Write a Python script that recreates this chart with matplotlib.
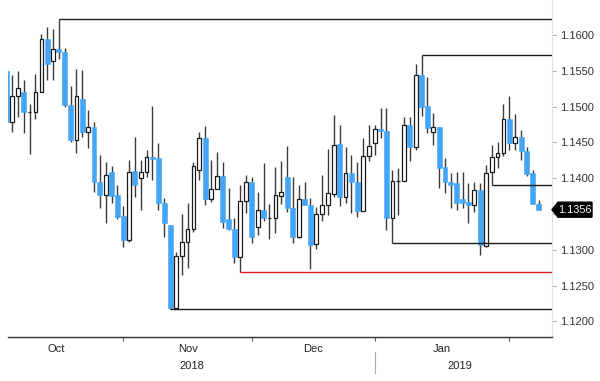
import matplotlib
matplotlib.use("Agg")
import matplotlib.pyplot as plt
import numpy as np
import pandas as pd
from matplotlib.patches import Polygon

plt.rcParams["font.family"] = ["Liberation Sans", "DejaVu Sans"]

# EUR/USD daily candles, 3 Oct 2018 - 7 Feb 2019 (index 0 = 1 Oct 2018)
dates = pd.bdate_range("2018-10-03", "2019-02-07")
opens = [1.1550, 1.1479, 1.1515, 1.1520, 1.1492, 1.1492, 1.1521, 1.1594, 1.1564, 1.1580,
         1.1576, 1.1502, 1.1454, 1.1510, 1.1464, 1.1472, 1.1394, 1.1376, 1.1409, 1.1376,
         1.1347, 1.1313, 1.1410, 1.1400, 1.1408, 1.1429, 1.1428, 1.1366, 1.1334, 1.1219,
         1.1292, 1.1311, 1.1329, 1.1412, 1.1456, 1.1371, 1.1385, 1.1403, 1.1343, 1.1329,
         1.1290, 1.1368, 1.1394, 1.1332, 1.1356, 1.1345, 1.1345, 1.1375, 1.1402, 1.1359,
         1.1318, 1.1371, 1.1363, 1.1308, 1.1350, 1.1362, 1.1378, 1.1448, 1.1374, 1.1407,
         1.1394, 1.1354, 1.1431, 1.1449, 1.1469, 1.1466, 1.1344, 1.1396, 1.1396, 1.1475,
         1.1443, 1.1544, 1.1501, 1.1465, 1.1471, 1.1415, 1.1394, 1.1393, 1.1371, 1.1367,
         1.1362, 1.1383, 1.1306, 1.1408, 1.1430, 1.1435, 1.1482, 1.1449, 1.1457, 1.1438,
         1.1407, 1.1364]
highs = [1.1550, 1.1544, 1.1550, 1.1537, 1.1504, 1.1546, 1.1601, 1.1611, 1.1608, 1.1622,
         1.1582, 1.1529, 1.1552, 1.1551, 1.1495, 1.1478, 1.1432, 1.1423, 1.1417, 1.1391,
         1.1361, 1.1426, 1.1458, 1.1426, 1.1439, 1.1501, 1.1449, 1.1372, 1.1334, 1.1297,
         1.1350, 1.1365, 1.1423, 1.1465, 1.1473, 1.1426, 1.1436, 1.1423, 1.1386, 1.1345,
         1.1391, 1.1404, 1.1402, 1.1381, 1.1421, 1.1364, 1.1415, 1.1424, 1.1445, 1.1402,
         1.1390, 1.1395, 1.1372, 1.1360, 1.1404, 1.1441, 1.1488, 1.1475, 1.1444, 1.1433,
         1.1422, 1.1456, 1.1475, 1.1475, 1.1498, 1.1498, 1.1412, 1.1414, 1.1485, 1.1486,
         1.1560, 1.1572, 1.1542, 1.1491, 1.1472, 1.1428, 1.1407, 1.1409, 1.1409, 1.1393,
         1.1395, 1.1393, 1.1418, 1.1446, 1.1451, 1.1504, 1.1515, 1.1490, 1.1468, 1.1444,
         1.1412, 1.1370]
lows = [1.1478, 1.1465, 1.1486, 1.1463, 1.1434, 1.1482, 1.1520, 1.1537, 1.1537, 1.1567,
        1.1499, 1.1450, 1.1435, 1.1458, 1.1442, 1.1381, 1.1359, 1.1338, 1.1365, 1.1343,
        1.1304, 1.1311, 1.1374, 1.1356, 1.1402, 1.1397, 1.1356, 1.1318, 1.1218, 1.1218,
        1.1265, 1.1274, 1.1325, 1.1397, 1.1362, 1.1367, 1.1385, 1.1330, 1.1328, 1.1281,
        1.1269, 1.1352, 1.1309, 1.1321, 1.1340, 1.1315, 1.1324, 1.1364, 1.1353, 1.1309,
        1.1317, 1.1362, 1.1273, 1.1301, 1.1340, 1.1349, 1.1374, 1.1361, 1.1365, 1.1351,
        1.1346, 1.1354, 1.1424, 1.1432, 1.1456, 1.1328, 1.1310, 1.1349, 1.1396, 1.1424,
        1.1440, 1.1487, 1.1463, 1.1446, 1.1386, 1.1379, 1.1358, 1.1356, 1.1358, 1.1338,
        1.1353, 1.1293, 1.1304, 1.1391, 1.1414, 1.1431, 1.1440, 1.1439, 1.1425, 1.1403,
        1.1364, 1.1356]
closes = [1.1479, 1.1515, 1.1526, 1.1493, 1.1492, 1.1521, 1.1594, 1.1560, 1.1580, 1.1576,
          1.1502, 1.1453, 1.1515, 1.1464, 1.1472, 1.1394, 1.1376, 1.1404, 1.1375, 1.1346,
          1.1313, 1.1409, 1.1390, 1.1408, 1.1429, 1.1427, 1.1365, 1.1337, 1.1219, 1.1292,
          1.1311, 1.1329, 1.1417, 1.1456, 1.1371, 1.1385, 1.1403, 1.1339, 1.1329, 1.1290,
          1.1368, 1.1394, 1.1318, 1.1356, 1.1345, 1.1345, 1.1376, 1.1381, 1.1358, 1.1318,
          1.1371, 1.1363, 1.1307, 1.1350, 1.1363, 1.1379, 1.1447, 1.1374, 1.1407, 1.1394,
          1.1354, 1.1431, 1.1445, 1.1469, 1.1466, 1.1344, 1.1396, 1.1396, 1.1474, 1.1443,
          1.1544, 1.1500, 1.1470, 1.1471, 1.1414, 1.1394, 1.1390, 1.1365, 1.1366, 1.1362,
          1.1383, 1.1307, 1.1407, 1.1430, 1.1435, 1.1482, 1.1449, 1.1457, 1.1438, 1.1406,
          1.1364, 1.1356]

# support / resistance levels: (date of the candle, which extreme, colour)
levels = [("2018-10-16", "high", "#1a1a1a"),
          ("2019-01-10", "high", "#1a1a1a"),
          ("2019-01-28", "low", "#1a1a1a"),
          ("2019-01-03", "low", "#1a1a1a"),
          ("2018-11-28", "low", "#e8141b"),
          ("2018-11-12", "low", "#1a1a1a")]
month_names = ["Oct", "Nov", "Dec", "Jan"]
month_starts = ["2018-11-01", "2018-12-03", "2019-01-01", "2019-02-01"]
years = ["2018", "2019"]
yticks = [1.1200, 1.1250, 1.1300, 1.1350, 1.1400, 1.1450, 1.1500, 1.1550, 1.1600]

BLUE = "#42a5f5"
df = pd.DataFrame({"open": opens, "high": highs, "low": lows, "close": closes}, index=dates)
x = np.arange(2, 2 + len(df))
pos = dict(zip(df.index, x))

fig = plt.figure(figsize=(6, 3.81), dpi=100)
ax = fig.add_axes([8 / 600, 44 / 381, 544 / 600, 337 / 381])
x_left, x_right = 2.3, 2.3 + 544 / 5.85
ax.set_xlim(x_left, x_right)
ax.set_ylim(1.11782, 1.16489)

up = df["close"] >= df["open"]
ax.vlines(x, df["low"], df["high"], color="#3a3a3a", lw=1.0, zorder=1)
ax.bar(x[~up], (df["open"] - df["close"])[~up], bottom=df["close"][~up], width=0.84,
       color=BLUE, edgecolor=BLUE, lw=0.4, zorder=2)
ax.bar(x[up], (df["close"] - df["open"])[up], bottom=df["open"][up], width=0.62,
       color="white", edgecolor="#1a1a1a", lw=0.9, zorder=2)

for day, kind, color in levels:
    ts = pd.Timestamp(day)
    ax.hlines(df.loc[ts, kind], pos[ts], x_right, color=color, lw=1.0, zorder=3)

# month axis
first_idx = [pos[pd.Timestamp(d)] - 1 for d in month_starts]
bounds = [x[0] - 3] + first_idx
ax.set_xticks(first_idx)
ax.set_xticklabels([])
ax.tick_params(axis="x", direction="out", length=3, width=0.8, color="#555")
for name, a, b in zip(month_names, bounds[:-1], bounds[1:]):
    ax.text((a + b) / 2, -0.036, name, transform=ax.get_xaxis_transform(),
            ha="center", va="center", fontsize=8, color="#222")
year_split = pos[pd.Timestamp("2019-01-01")] - 1
ax.text((x_left + year_split) / 2, -0.087, years[0], transform=ax.get_xaxis_transform(),
        ha="center", va="center", fontsize=8, color="#222")
ax.text((year_split + x[-1] + 1) / 2, -0.087, years[1], transform=ax.get_xaxis_transform(),
        ha="center", va="center", fontsize=8, color="#222")
ax.plot([year_split, year_split], [-0.045, -0.107], transform=ax.get_xaxis_transform(),
        color="#aaa", lw=0.8, clip_on=False)

# price axis on the right
ax.yaxis.tick_right()
ax.set_yticks(yticks)
ax.set_yticklabels(["" if abs(v - 1.135) < 1e-9 else f"{v:.4f}" for v in yticks])
ax.tick_params(axis="y", length=3, width=0.8, color="#aaa", pad=2.5,
               labelsize=8, labelcolor="#333")
for side in ("left", "top"):
    ax.spines[side].set_visible(False)
ax.spines["right"].set_color("#e0e0e0")
ax.spines["right"].set_linewidth(0.8)
ax.spines["bottom"].set_color("#333")
ax.spines["bottom"].set_linewidth(1.0)

# last price tag
last = df["close"].iloc[-1]
h = 0.00105
tag = Polygon([(1.0, last), (1.011, last + h), (1.0735, last + h),
               (1.0735, last - h), (1.011, last - h)], closed=True,
              transform=ax.get_yaxis_transform(), facecolor="black",
              edgecolor="black", clip_on=False, zorder=5)
ax.add_patch(tag)
ax.text(1.0425, last, f"{last:.4f}", transform=ax.get_yaxis_transform(),
        ha="center", va="center", fontsize=7.8, color="white", zorder=6)

fig.savefig("out.png", dpi=100, facecolor="white")
